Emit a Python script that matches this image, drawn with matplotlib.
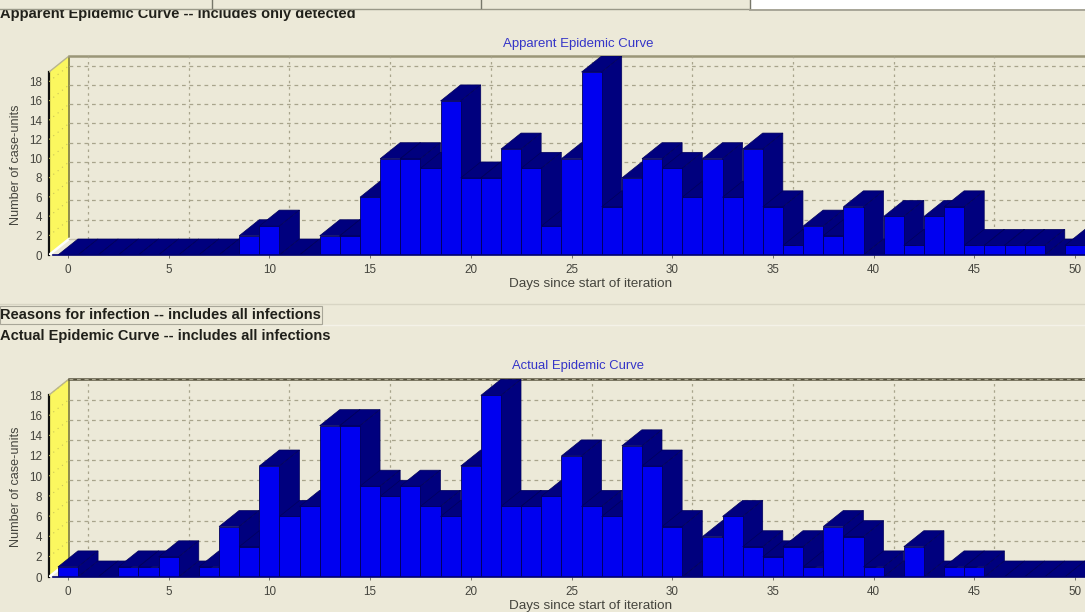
import matplotlib
matplotlib.use("Agg")
import matplotlib.pyplot as plt
from matplotlib.patches import Rectangle

W, H = 1085, 612
BG = "#ECE9D8"
FRONT = "#0000F0"
DARK = "#00007E"
EDGE = "#00005A"
YELLOW = "#FBF75F"
GRID = "#A8A48C"
TXT = "#45453E"

days = list(range(51))
apparent = [0, 0, 0, 0, 0, 0, 0, 0, 0, 2, 3, 0, 0, 2, 2, 6, 10, 10, 9, 16,
            8, 8, 11, 9, 3, 10, 19, 5, 8, 10, 9, 6, 10, 6, 11, 5, 1, 3, 2, 5,
            0, 4, 1, 4, 5, 1, 1, 1, 1, 0, 1]
actual = [1, 0, 0, 1, 1, 2, 0, 1, 5, 3, 11, 6, 7, 15, 15, 9, 8, 9, 7, 6,
          11, 18, 7, 7, 8, 12, 7, 6, 13, 11, 5, 0, 4, 6, 3, 2, 3, 1, 5, 4,
          1, 0, 3, 0, 1, 1, 0, 0, 0, 0, 0]
xticks = [0, 5, 10, 15, 20, 25, 30, 35, 40, 45, 50]
yticks = [0, 2, 4, 6, 8, 10, 12, 14, 16, 18]
xlabel = "Days since start of iteration"
ylabel = "Number of case-units"
title_top = "Apparent Epidemic Curve"
title_bottom = "Actual Epidemic Curve"
head_top = "Apparent Epidemic Curve -- includes only detected"
head_mid = "Reasons for infection -- includes all infections"
head_bottom = "Actual Epidemic Curve -- includes all infections"

plt.rcParams["font.family"] = ["Liberation Sans", "DejaVu Sans"]
fig = plt.figure(figsize=(W / 100, H / 100), dpi=100, facecolor=BG)

PX_DAY = 20.14
X0_PX = 68.0
LEFT_PX = 49.0
DEPTH_X = 20.0
DEPTH_Y = 16.0


def panel(values, floor_px, top_px, px_unit, title, title_y, title_size, top_color):
    ax = fig.add_axes([LEFT_PX / W, 1 - floor_px / H, (W - LEFT_PX) / W, (floor_px - top_px) / H])
    ax.set_facecolor("none")
    xmin = (LEFT_PX - X0_PX) / PX_DAY
    xmax = (W - X0_PX) / PX_DAY
    ymax = (floor_px - top_px) / px_unit
    ax.set_xlim(xmin, xmax)
    ax.set_ylim(0, ymax)
    dx = DEPTH_X / PX_DAY
    dy = DEPTH_Y / px_unit
    wall_top = ymax - dy

    # floor and side wall
    ax.fill([xmin, xmin + dx, xmin + dx, xmin], [0, dy, ymax, wall_top],
            color=YELLOW, lw=0, zorder=1)
    ax.plot([xmin, xmin], [0, wall_top], color="#101010", lw=1.6, zorder=2, clip_on=False)
    ax.plot([xmin + dx, xmin + dx], [dy, ymax], color="#8E8C4A", lw=1.4, zorder=2)
    ax.plot([xmin, xmin + dx], [wall_top, ymax], color="#B8B490", lw=1.0, zorder=2)
    ax.plot([xmin, xmin + dx], [0, dy], color="white", lw=1.8, zorder=2)
    ax.plot([xmin + dx, xmax], [ymax, ymax], color=top_color, lw=1.8, zorder=2, clip_on=False)
    ax.plot([xmin + dx, xmax], [dy, dy], color="#C8C4B0", lw=1.0, zorder=2)

    # grid on the back wall
    for v in yticks[1:]:
        ax.plot([xmin + dx, xmax], [v + dy, v + dy], color=GRID, lw=0.9,
                ls=(0, (3, 3)), zorder=2)
        ax.plot([xmin, xmin + dx], [v, v + dy], color="#C8C25A", lw=0.8,
                ls=(0, (1, 4)), zorder=2)
    for d in xticks[:-1]:
        ax.plot([d + dx, d + dx], [dy, ymax], color=GRID, lw=0.9,
                ls=(0, (2, 3)), zorder=2)

    # 3D bars, painted from left to right
    for i, (d, v) in enumerate(zip(days, values)):
        z = 3 + i * 0.01
        l, r = d - 0.5, d + 0.5
        ax.fill([l, l + dx, r + dx, r], [v, v + dy, v + dy, v], facecolor=DARK,
                edgecolor=EDGE, lw=0.5, zorder=z)
        ax.fill([r, r + dx, r + dx, r], [0, dy, v + dy, v], facecolor=DARK,
                edgecolor=EDGE, lw=0.5, zorder=z)
        if v > 0:
            ax.bar(d, v, width=1.0, color=FRONT, edgecolor=EDGE, linewidth=0.6, zorder=z)
    ax.plot([xmin + 0.2, xmax], [0, 0], color="#000070", lw=1.2, zorder=4, clip_on=False)

    for s in ax.spines.values():
        s.set_visible(False)
    ax.set_xticks(xticks)
    ax.set_yticks(yticks)
    ax.tick_params(axis="x", labelsize=8.4, colors=TXT, length=2, width=0.5, pad=4.6)
    ax.tick_params(axis="y", labelsize=8.4, colors=TXT, length=0, pad=5)
    fig.text(591 / W, 1 - (floor_px + 29.5) / H, xlabel, fontsize=9.7, color=TXT,
             ha="center", va="center")
    fig.text(16 / W, 1 - (floor_px - 90.5) / H, ylabel, fontsize=9.1, color=TXT,
             ha="center", va="center", rotation=90)
    fig.text(578.5 / W, 1 - title_y / H, title, fontsize=title_size, color="#3434C8",
             ha="center", va="center")


panel(apparent, 255, 56, 9.63, title_top, 44, 9.5, "#9A9678")
panel(actual, 577, 379, 10.09, title_bottom, 366, 9.4, "#55513C")

bold = dict(fontsize=10.5, fontweight="bold", color="#20201A", ha="left", va="center")
fig.text(-0.5 / W, 1 - 14 / H, head_top, **bold)
fig.text(0.5 / W, 1 - 315 / H, head_mid, **bold)
fig.text(0.5 / W, 1 - 335.5 / H, head_bottom, **bold)

# surrounding window chrome, drawn over the clipped heading
fig.add_artist(Rectangle((0, 1 - 9 / H), 750 / W, 9 / H, transform=fig.transFigure,
                         facecolor=BG, edgecolor="none", zorder=5))
fig.add_artist(Rectangle((750 / W, 1 - 9 / H), 335 / W, 9 / H, transform=fig.transFigure,
                         facecolor="white", edgecolor="none", zorder=5))
for xa, xb, ya, c, lw in [(0, 750, 8.5, "#9A9888", 1.0), (750, 1085, 9.5, "#A8A698", 1.4),
                          (0, 1085, 304, "#D8D5C4", 1.0), (322, 1085, 325, "#F4F2E8", 1.0)]:
    fig.add_artist(plt.Line2D([xa / W, xb / W], [1 - ya / H, 1 - ya / H], color=c, lw=lw, zorder=6))
for xa in [212, 481, 750]:
    fig.add_artist(plt.Line2D([xa / W, xa / W], [1 - 8 / H, 1], color="#77776A", lw=1.0, zorder=6))
fig.add_artist(Rectangle((0, 1 - 324 / H), 322 / W, 18 / H, transform=fig.transFigure,
                         facecolor="none", edgecolor="#A8A698", lw=0.8, zorder=6))

fig.savefig("out.png", dpi=100, facecolor=BG)
